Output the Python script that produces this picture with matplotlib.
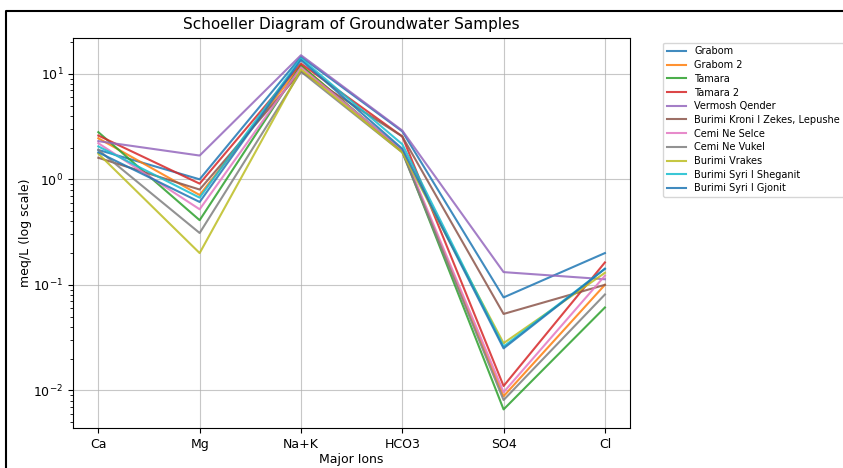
import matplotlib
matplotlib.use("Agg")
import matplotlib.pyplot as plt
from matplotlib.lines import Line2D

ions = ["Ca", "Mg", "Na+K", "HCO3", "SO4", "Cl"]

samples = ["Grabom", "Grabom 2", "Tamara", "Tamara 2", "Vermosh Qender",
           "Burimi Kroni I Zekes, Lepushe", "Cemi Ne Selce", "Cemi Ne Vukel",
           "Burimi Vrakes", "Burimi Syri I Sheganit", "Burimi Syri I Gjonit"]

grabom = [1.9, 1.0, 14.5, 2.85, 0.076, 0.20]
grabom_2 = [2.45, 0.71, 12.0, 1.85, 0.0088, 0.10]
tamara = [2.8, 0.41, 12.0, 1.85, 0.0066, 0.061]
tamara_2 = [2.6, 0.91, 12.5, 2.55, 0.011, 0.163]
vermosh = [2.3, 1.68, 15.0, 2.9, 0.132, 0.113]
kroni = [1.6, 0.80, 10.5, 2.55, 0.053, 0.10]
selce = [2.2, 0.52, 11.5, 1.9, 0.0096, 0.122]
vukel = [1.9, 0.31, 10.5, 1.8, 0.0081, 0.081]
vrakes = [1.75, 0.20, 11.0, 1.8, 0.028, 0.13]
sheganit = [2.05, 0.67, 14.0, 2.15, 0.026, 0.142]
gjonit = [1.8, 0.61, 13.5, 1.95, 0.025, 0.142]

values = [grabom, grabom_2, tamara, tamara_2, vermosh, kroni, selce, vukel,
          vrakes, sheganit, gjonit]

fig = plt.figure(figsize=(8.43, 4.68), dpi=100)
ax = fig.add_axes([0.0866, 0.0855, 0.661, 0.834])

for name, vals in zip(samples, values):
    ax.plot(ions, vals, label=name, linewidth=1.5, alpha=0.85)

ax.set_yscale("log")
ax.set_ylim(0.0044, 22)
ax.grid(True, which="major", color="#b0b0b0", alpha=0.7)
ax.set_title("Schoeller Diagram of Groundwater Samples", fontsize=11)
ax.set_xlabel("Major Ions", fontsize=9, labelpad=2)
ax.set_ylabel("meq/L (log scale)", fontsize=9, labelpad=1)
ax.tick_params(labelsize=9)
ax.legend(bbox_to_anchor=(1.05, 1), loc="upper left", fontsize=7,
          labelspacing=0.38)

# screenshot frame
fx = 6 / 843
fy = 1 - 11 / 468
fig.add_artist(Line2D([fx, fx, 1.0], [0.0, fy, fy], color="black",
                      linewidth=1.5, transform=fig.transFigure))

plt.savefig("out.png", dpi=100)
